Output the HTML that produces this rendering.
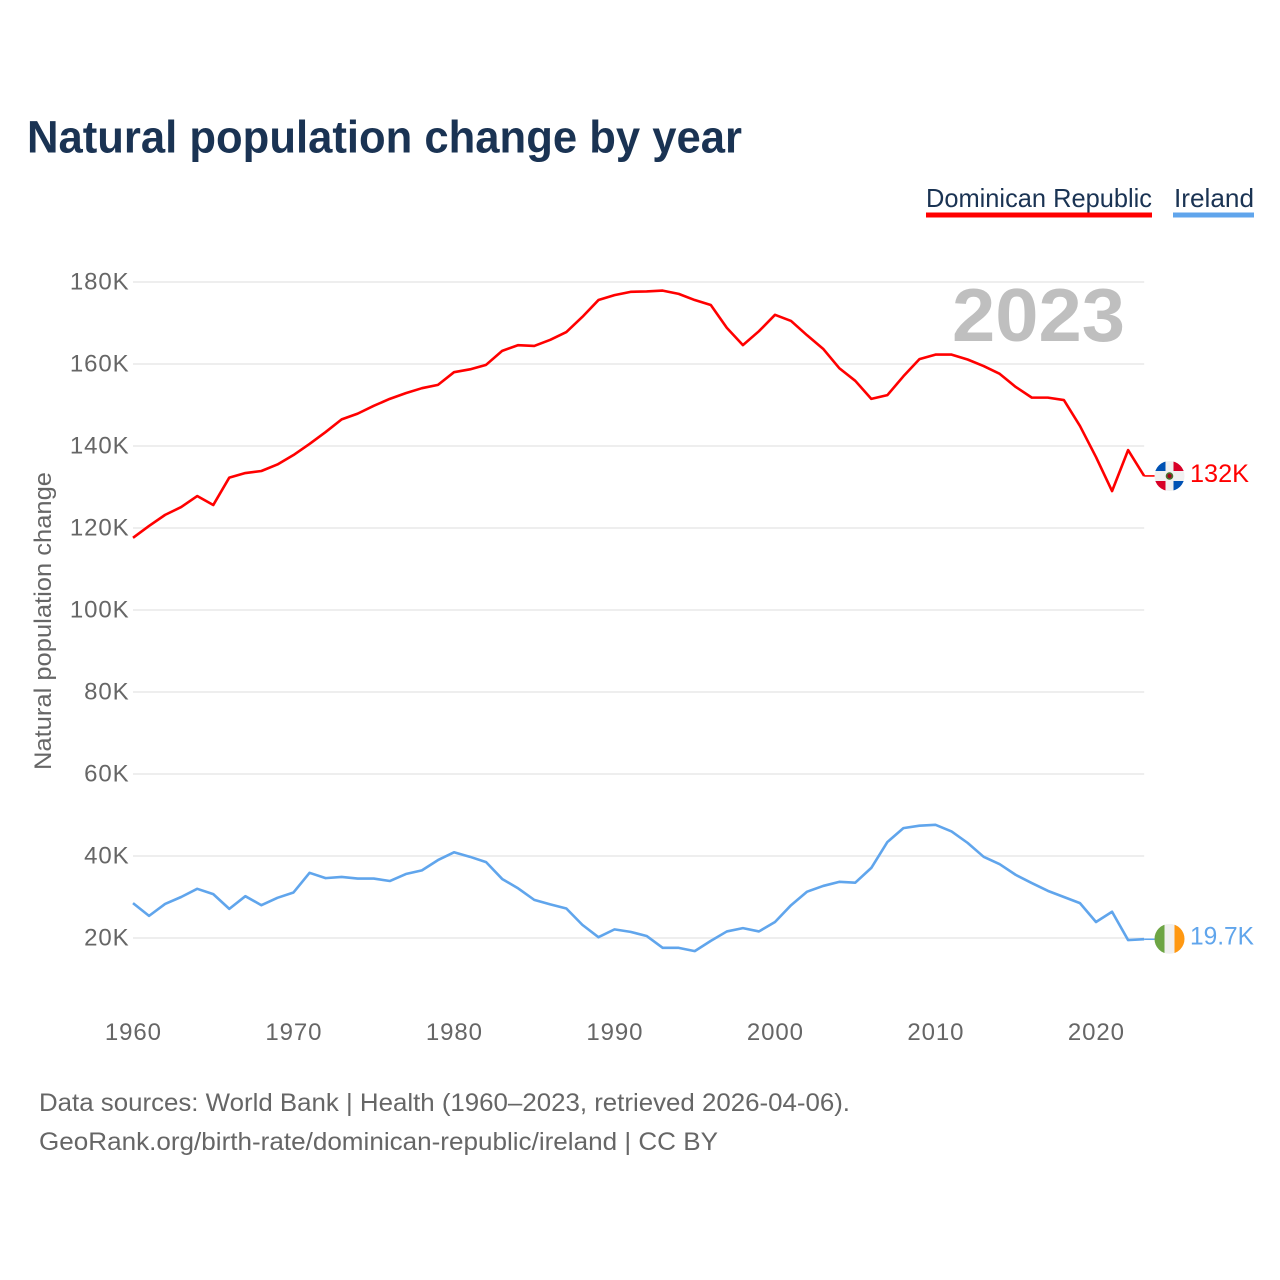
<!DOCTYPE html>
<html lang="en">
<head>
<meta charset="utf-8">
<title>Natural population change by year</title>
<style>
html,body{margin:0;padding:0;background:#fff;}
svg{display:block;font-family:"Liberation Sans",sans-serif;}
.tick{font-size:24px;fill:#666;letter-spacing:.9px;}
.src{font-size:25px;fill:#666;}
</style>
</head>
<body>
<svg id="chart" width="1280" height="1280" viewBox="0 0 1280 1280" xmlns="http://www.w3.org/2000/svg">
  <defs>
    <clipPath id="flag-clip"><circle cx="0" cy="0" r="15"/></clipPath>
  </defs>
  <text x="27" y="152.5" font-size="45" font-weight="700" fill="#1a3353" textLength="715" lengthAdjust="spacingAndGlyphs">Natural population change by year</text>

  <g>
    <text x="926" y="207" font-size="26" fill="#1a3353" textLength="226" lengthAdjust="spacingAndGlyphs">Dominican Republic</text>
    <rect x="926" y="212.5" width="226" height="5" fill="#ff0000"/>
  </g>
  <g>
    <text x="1174" y="207" font-size="26" fill="#1a3353" textLength="80" lengthAdjust="spacingAndGlyphs">Ireland</text>
    <rect x="1173" y="212.5" width="81" height="5" fill="#60a5ec"/>
  </g>

  <g id="grid"></g>
  <g id="y-ticks"></g>
  <g id="x-ticks"></g>

  <text transform="translate(51,621) rotate(-90)" text-anchor="middle" font-size="24" fill="#666" textLength="298" lengthAdjust="spacingAndGlyphs">Natural population change</text>

  <text id="year-label" x="1125" y="341" text-anchor="end" font-size="75" font-weight="700" fill="#bfbfbf" textLength="173" lengthAdjust="spacingAndGlyphs">2023</text>

  <g id="series"></g>

  <g id="flag-dr">
    <g clip-path="url(#flag-clip)">
      <rect x="-15" y="-15" width="30" height="30" fill="#f0f0f0"/>
      <rect x="-15" y="-15" width="11" height="10" fill="#0052b4"/>
      <rect x="4" y="-15" width="11" height="10" fill="#d80027"/>
      <rect x="-15" y="5" width="11" height="10" fill="#d80027"/>
      <rect x="4" y="5" width="11" height="10" fill="#0052b4"/>
      <circle cx="0" cy="0" r="3.8" fill="#496e2d"/>
      <circle cx="0" cy="0" r="2.1" fill="#a2001d"/>
    </g>
  </g>
  <g id="flag-ie">
    <g clip-path="url(#flag-clip)">
      <rect x="-15" y="-15" width="30" height="30" fill="#f0f0f0"/>
      <rect x="-15" y="-15" width="10" height="30" fill="#6da544"/>
      <rect x="5" y="-15" width="10" height="30" fill="#ff9811"/>
    </g>
  </g>
  <text id="end-dr" x="1190" y="483" font-size="25" fill="#ff0000" textLength="59" lengthAdjust="spacingAndGlyphs"></text>
  <text id="end-ie" x="1190" y="944" font-size="25" fill="#60a5ec" textLength="64" lengthAdjust="spacingAndGlyphs"></text>

  <text class="src" x="39" y="1111" textLength="811" lengthAdjust="spacingAndGlyphs">Data sources: World Bank | Health (1960–2023, retrieved 2026-04-06).</text>
  <text class="src" x="39" y="1150" textLength="679" lengthAdjust="spacingAndGlyphs">GeoRank.org/birth-rate/dominican-republic/ireland | CC BY</text>
</svg>
<script>
const years = [1960,1961,1962,1963,1964,1965,1966,1967,1968,1969,1970,1971,1972,1973,1974,1975,1976,1977,1978,1979,1980,1981,1982,1983,1984,1985,1986,1987,1988,1989,1990,1991,1992,1993,1994,1995,1996,1997,1998,1999,2000,2001,2002,2003,2004,2005,2006,2007,2008,2009,2010,2011,2012,2013,2014,2015,2016,2017,2018,2019,2020,2021,2022,2023];
const dominicanRepublic = [117.6,120.5,123.2,125.1,127.8,125.6,132.3,133.4,133.9,135.5,137.8,140.5,143.4,146.5,147.9,149.8,151.5,152.9,154.1,154.9,158,158.7,159.8,163.2,164.6,164.4,165.9,167.8,171.5,175.6,176.8,177.6,177.7,177.9,177.1,175.6,174.4,168.8,164.6,168,172,170.5,167,163.7,159,155.9,151.5,152.4,157,161.2,162.3,162.3,161.1,159.5,157.6,154.4,151.8,151.8,151.2,144.9,137.3,129,139,132.7];
const ireland = [28.5,25.4,28.3,30,32,30.7,27.1,30.2,28,29.8,31.1,35.9,34.6,34.9,34.5,34.5,33.9,35.6,36.5,39,40.9,39.8,38.5,34.4,32.1,29.3,28.2,27.2,23.2,20.2,22.1,21.5,20.5,17.6,17.6,16.8,19.3,21.6,22.4,21.6,23.9,28,31.3,32.7,33.7,33.5,37.1,43.4,46.8,47.4,47.6,46,43.2,39.8,38,35.4,33.4,31.5,30,28.5,23.9,26.4,19.5,19.7];
const yTickValues = [20,40,60,80,100,120,140,160,180];
const xTickValues = [1960,1970,1980,1990,2000,2010,2020];
const endLabels = ['132K','19.7K'];

const NS = 'http://www.w3.org/2000/svg';
function xScale(year){ return 133 + (year - 1960) * 16.05; }
function yScale(k){ return 938 - (k - 20) * 4.1; }
const plotRight = xScale(years[years.length - 1]);

const gridGroup = document.getElementById('grid');
const yGroup = document.getElementById('y-ticks');
yTickValues.forEach(function(v){
  const line = document.createElementNS(NS,'line');
  
  
  line.setAttribute('x1', 133);
  line.setAttribute('x2', plotRight);
  line.setAttribute('y1', yScale(v));
  line.setAttribute('y2', yScale(v));
  line.setAttribute('stroke', '#eeeeee');
  line.setAttribute('stroke-width', 2);
  gridGroup.appendChild(line);

  const t = document.createElementNS(NS,'text');
  
  
  t.setAttribute('class', 'tick');
  t.setAttribute('x', 129.5);
  t.setAttribute('y', yScale(v) + 7.5);
  t.setAttribute('text-anchor', 'end');
  t.textContent = v + 'K';
  yGroup.appendChild(t);
});

const xGroup = document.getElementById('x-ticks');
xTickValues.forEach(function(v){
  const t = document.createElementNS(NS,'text');
  
  
  t.setAttribute('class', 'tick');
  t.setAttribute('x', xScale(v) + 0.4);
  t.setAttribute('y', 1040);
  t.setAttribute('text-anchor', 'middle');
  t.textContent = v;
  xGroup.appendChild(t);
});

const seriesGroup = document.getElementById('series');
function drawSeries(values, color, name){
  const pts = values.map(function(v,i){ return xScale(years[i]).toFixed(2) + ',' + yScale(v).toFixed(2); }).join(' ');
  const line = document.createElementNS(NS,'polyline');
  
  
  line.setAttribute('points', pts);
  line.setAttribute('fill', 'none');
  line.setAttribute('stroke', color);
  line.setAttribute('stroke-width', 2.6);
  line.setAttribute('stroke-linejoin', 'round');
  seriesGroup.appendChild(line);

  const last = yScale(values[values.length - 1]);
  const conn = document.createElementNS(NS,'line');
  
  
  conn.setAttribute('x1', plotRight);
  conn.setAttribute('x2', 1156);
  conn.setAttribute('y1', last);
  conn.setAttribute('y2', last);
  conn.setAttribute('stroke', color);
  conn.setAttribute('stroke-width', 1.6);
  seriesGroup.appendChild(conn);
  return last;
}
const lastDr = drawSeries(dominicanRepublic, '#ff0000', 'line-dominican-republic');
const lastIe = drawSeries(ireland, '#60a5ec', 'line-ireland');

document.getElementById('flag-dr').setAttribute('transform', 'translate(1169.5,' + (lastDr + 0.1).toFixed(1) + ')');
document.getElementById('flag-ie').setAttribute('transform', 'translate(1169.5,' + (lastIe - 0.3).toFixed(1) + ')');
const endDr = document.getElementById('end-dr');
endDr.textContent = endLabels[0];
endDr.setAttribute('y', (lastDr + 6).toFixed(1));
const endIe = document.getElementById('end-ie');
endIe.textContent = endLabels[1];
endIe.setAttribute('y', (lastIe + 5.5).toFixed(1));
</script>
</body>
</html>
